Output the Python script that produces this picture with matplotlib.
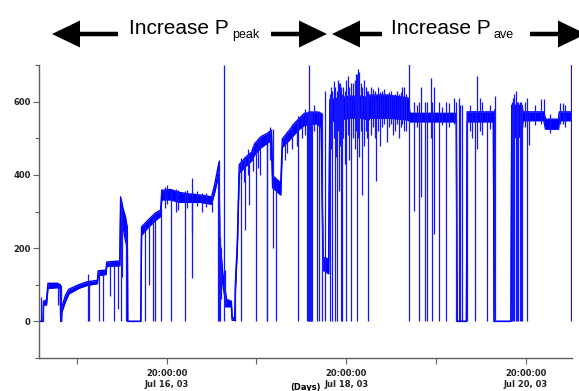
import matplotlib
matplotlib.use("Agg")
import matplotlib.pyplot as plt
import matplotlib.dates as mdates
from matplotlib.ticker import MultipleLocator, FixedLocator
from datetime import datetime, timedelta

plt.rcParams['font.family'] = ['DejaVu Sans']
plt.rcParams['font.weight'] = 'bold'

# time axis: hours after 2003-07-15 00:00
t0 = datetime(2003, 7, 15)

# power level band (lower / upper edge of the noisy trace)
lvl_h = [9.9, 11.0, 11.1, 11.9, 12.3, 14.8, 15.6, 15.7, 15.9, 16.0, 17.0, 17.9,
         20.5, 22.7, 25.5, 25.7, 27.8, 28.0, 31.5, 31.7, 32.3, 33.0, 33.5, 33.6,
         37.1, 37.3, 39.2, 41.0, 42.4, 42.7, 45.0, 47.5, 50.0, 53.0, 56.0, 56.8,
         58.0, 58.2, 59.0, 60.0, 61.3, 61.5, 62.2, 62.4, 62.9, 63.4, 65.3, 66.7,
         67.5, 69.3, 70.7, 72.0, 72.3, 74.5, 74.9, 76.8, 78.1, 79.5, 80.8, 84.0,
         85.3, 85.8, 87.3, 87.6, 90.0, 93.0, 96.0, 98.0, 98.3, 103.0, 108.5, 109.0,
         118.0, 121.4, 121.6, 124.1, 124.3, 131.3, 131.5, 136.0, 136.2, 138.9, 139.2, 144.8,
         145.2, 148.7, 148.9, 152.0]
lvl_lo = [0, 0, 45, 45, 90, 92, 90, 0, 0, 25, 55, 75,
          90, 98, 103, 125, 128, 150, 152, 290, 260, 220, 200, 0,
          0, 235, 258, 275, 287, 332, 332, 325, 325, 325, 320, 350,
          405, 190, 100, 40, 40, 3, 3, 90, 200, 405, 425, 438,
          455, 475, 485, 495, 365, 345, 475, 495, 510, 525, 535, 540,
          530, 140, 130, 545, 550, 555, 555, 550, 555, 555, 550, 545,
          545, 545, 0, 0, 545, 545, 0, 0, 500, 505, 548, 548,
          525, 525, 548, 548]
lvl_hi = [0, 0, 55, 58, 104, 104, 100, 0, 0, 40, 72, 88,
          100, 108, 112, 138, 140, 162, 165, 340, 310, 285, 255, 0,
          0, 258, 278, 296, 304, 358, 360, 352, 348, 345, 340, 372,
          435, 230, 130, 60, 55, 10, 10, 110, 220, 428, 450, 462,
          485, 505, 512, 522, 398, 378, 498, 522, 540, 555, 568, 572,
          568, 175, 170, 605, 610, 615, 615, 610, 618, 618, 610, 568,
          568, 568, 0, 0, 572, 572, 0, 0, 590, 590, 572, 572,
          552, 552, 572, 572]

# dropouts and spikes: hour, bottom, top
drop_h = [10.4, 11.1, 14.9, 15.7, 23.0, 23.2, 25.9, 27.0, 28.8, 29.9, 30.9, 31.7,
          32.2, 33.1, 38.1, 39.2, 40.3, 40.8, 42.4, 45.1, 46.5, 48.8, 50.7, 50.9,
          53.5, 56.0, 57.7, 58.0, 58.3, 58.6, 59.2, 59.5, 62.2, 64.0, 65.0, 66.1,
          68.0, 70.7, 70.9, 72.3, 73.3, 79.2, 81.6, 81.8, 82.0, 82.1, 82.3, 82.5,
          82.7, 82.9, 84.3, 84.8, 85.6, 86.4, 87.7, 88.3, 89.1, 89.6, 90.1, 90.7,
          90.9, 92.0, 93.3, 94.9, 95.5, 96.3, 97.9, 100.0, 101.0, 102.9, 104.5, 106.0,
          107.5, 108.7, 110.1, 111.5, 112.0, 113.1, 113.6, 114.5, 114.9, 115.5, 116.8, 118.7,
          120.8, 121.3, 122.1, 122.4, 122.9, 124.3, 125.6, 126.4, 126.9, 127.7, 128.3, 129.6,
          131.5, 131.7, 136.3, 136.6, 136.9, 137.3, 137.6, 137.9, 138.3, 138.6, 138.9, 140.3,
          140.8, 144.0, 144.8, 149.1, 149.9, 152.0]
drop_lo = [0, 0, 45, 0, 0, 0, 0, 0, 70, 0, 35, 0,
           120, 0, 0, 100, 0, 0, 0, 0, 300, 0, 118, 240,
           300, 300, 0, 0, 0, 60, 0, 40, 0, 0, 250, 318,
           0, 0, 0, 200, 0, 0, 0, 0, 0, 0, 0, 0,
           0, 0, 0, 0, 0, 0, 0, 0, 0, 0, 356, 0,
           0, 0, 0, 0, 450, 345, 0, 384, 480, 490, 510, 500,
           520, 0, 301, 0, 340, 0, 0, 500, 0, 238, 0, 0,
           540, 0, 0, 0, 0, 0, 500, 0, 470, 520, 510, 0,
           0, 0, 0, 0, 0, 0, 0, 0, 0, 0, 0, 0,
           482, 540, 540, 540, 540, 0]
drop_hi = [66, 55, 100, 100, 130, 108, 135, 135, 160, 160, 160, 335,
           310, 260, 262, 280, 285, 290, 306, 362, 362, 356, 352, 392,
           350, 342, 420, 440, 230, 200, 700, 140, 110, 440, 450, 460,
           480, 512, 515, 525, 390, 560, 570, 575, 575, 700, 575, 575,
           575, 575, 575, 575, 570, 630, 620, 630, 640, 630, 650, 640,
           620, 660, 650, 675, 680, 640, 630, 610, 625, 620, 615, 620,
           640, 705, 600, 600, 640, 600, 600, 665, 600, 640, 600, 600,
           609, 600, 609, 590, 590, 575, 575, 575, 671, 609, 600, 575,
           580, 616, 600, 610, 620, 630, 600, 600, 600, 600, 590, 609,
           575, 606, 606, 595, 595, 705]

# short jitter strokes inside the noisy level: hour, bottom, top
jit_h = [43.5, 44.2, 47.0, 49.5, 52.0, 54.5, 63.8, 64.6, 65.8, 67.0, 68.5, 69.0,
         71.5, 75.5, 76.2, 77.5, 78.7, 80.2, 81.0, 83.5, 87.9, 88.6, 89.3, 89.9,
         90.4, 91.2, 91.6, 92.4, 92.8, 93.7, 94.2, 94.6, 95.2, 95.8, 96.7, 97.2,
         97.6, 98.6, 99.2, 99.7, 100.5, 101.5, 102.2, 103.5, 104.0, 105.0, 105.5, 106.5,
         107.0, 108.0, 110.8, 117.5, 119.5, 125.0, 130.5, 139.8, 142.5, 146.5, 150.5]
jit_lo = [310, 320, 305, 310, 315, 312, 390, 380, 400, 410, 420, 400,
          440, 440, 460, 470, 480, 500, 510, 520, 470, 500, 450, 520,
          480, 500, 430, 510, 440, 500, 470, 520, 500, 520, 480, 520,
          500, 510, 530, 500, 520, 530, 540, 530, 540, 520, 540, 530,
          540, 520, 530, 535, 530, 520, 525, 530, 535, 515, 530]
jit_hi = [368, 372, 360, 358, 355, 350, 445, 450, 470, 480, 500, 505,
          530, 505, 520, 540, 550, 565, 580, 590, 640, 655, 610, 660,
          650, 640, 630, 670, 640, 650, 660, 675, 690, 650, 660, 640,
          630, 640, 635, 630, 640, 630, 635, 625, 630, 620, 630, 625,
          640, 620, 590, 585, 595, 590, 590, 600, 590, 565, 590]

major_ticks = [datetime(2003, 7, 16, 20), datetime(2003, 7, 18, 20), datetime(2003, 7, 20, 20)]
minor_ticks = [datetime(2003, 7, 15, 20), datetime(2003, 7, 17, 20), datetime(2003, 7, 19, 20)]
y_major = [0, 200, 400, 600]

t_lvl = [t0 + timedelta(hours=h) for h in lvl_h]
t_drop = [t0 + timedelta(hours=h) for h in drop_h]
t_jit = [t0 + timedelta(hours=h) for h in jit_h]

fig = plt.figure(figsize=(5.79, 3.91), dpi=100)
ax = fig.add_axes([39 / 579, 33 / 391, 533 / 579, 293 / 391])

blue = '#0000ff'
ax.fill_between(t_lvl, lvl_lo, lvl_hi, color=blue, lw=0)
ax.plot(t_lvl, lvl_lo, color=blue, lw=1)
ax.plot(t_lvl, lvl_hi, color=blue, lw=1)
ax.vlines(t_drop, drop_lo, drop_hi, color='#1515ff', lw=0.9)
ax.vlines(t_jit, jit_lo, jit_hi, color='#1515ff', lw=0.9)

ax.set_xlim(t0 + timedelta(hours=9.9), t0 + timedelta(hours=152.3))
ax.set_ylim(-100, 700)

ax.set_xticks(major_ticks)
ax.xaxis.set_minor_locator(FixedLocator(mdates.date2num(minor_ticks)))
ax.xaxis.set_major_formatter(mdates.DateFormatter('%H:%M:%S\n%b %d, %y'))
ax.set_yticks(y_major)
ax.yaxis.set_minor_locator(MultipleLocator(100))

for s in ['top', 'right']:
    ax.spines[s].set_visible(False)
for s in ['left', 'bottom']:
    ax.spines[s].set_color('#606060')
    ax.spines[s].set_linewidth(1)

ax.tick_params(axis='both', which='both', color='#606060', width=0.8, labelsize=6, labelcolor='#222222')
ax.tick_params(axis='y', which='major', length=4, pad=2)
ax.tick_params(axis='y', which='minor', length=3)
ax.tick_params(axis='x', which='major', length=4, pad=4)
ax.tick_params(axis='x', which='minor', length=4)
ax.set_xlabel('(Days)', fontsize=6, fontweight='bold', labelpad=-4)

# header arrows and text
ov = fig.add_axes([0, 0, 1, 1])
ov.set_xlim(0, 579)
ov.set_ylim(391, 0)
ov.axis('off')
arrows = [(118, 52), (271, 327), (382, 332), (530, 586)]
for x_start, x_tip in arrows:
    ov.arrow(x_start, 34, x_tip - x_start, 0, width=4.5, head_width=27, head_length=28,
             length_includes_head=True, fc='black', ec='black', lw=0)

fig.text(129 / 579, 1 - 34 / 391, 'Increase P', fontsize=15, family='Liberation Sans',
         fontweight='normal', va='baseline')
fig.text(232 / 579, 1 - 38 / 391, 'peak', fontsize=9, family='Liberation Sans',
         fontweight='normal', va='baseline')
fig.text(391 / 579, 1 - 34 / 391, 'Increase P', fontsize=15, family='Liberation Sans',
         fontweight='normal', va='baseline')
fig.text(493 / 579, 1 - 38 / 391, 'ave', fontsize=9, family='Liberation Sans',
         fontweight='normal', va='baseline')

fig.savefig('out.png', dpi=100)
